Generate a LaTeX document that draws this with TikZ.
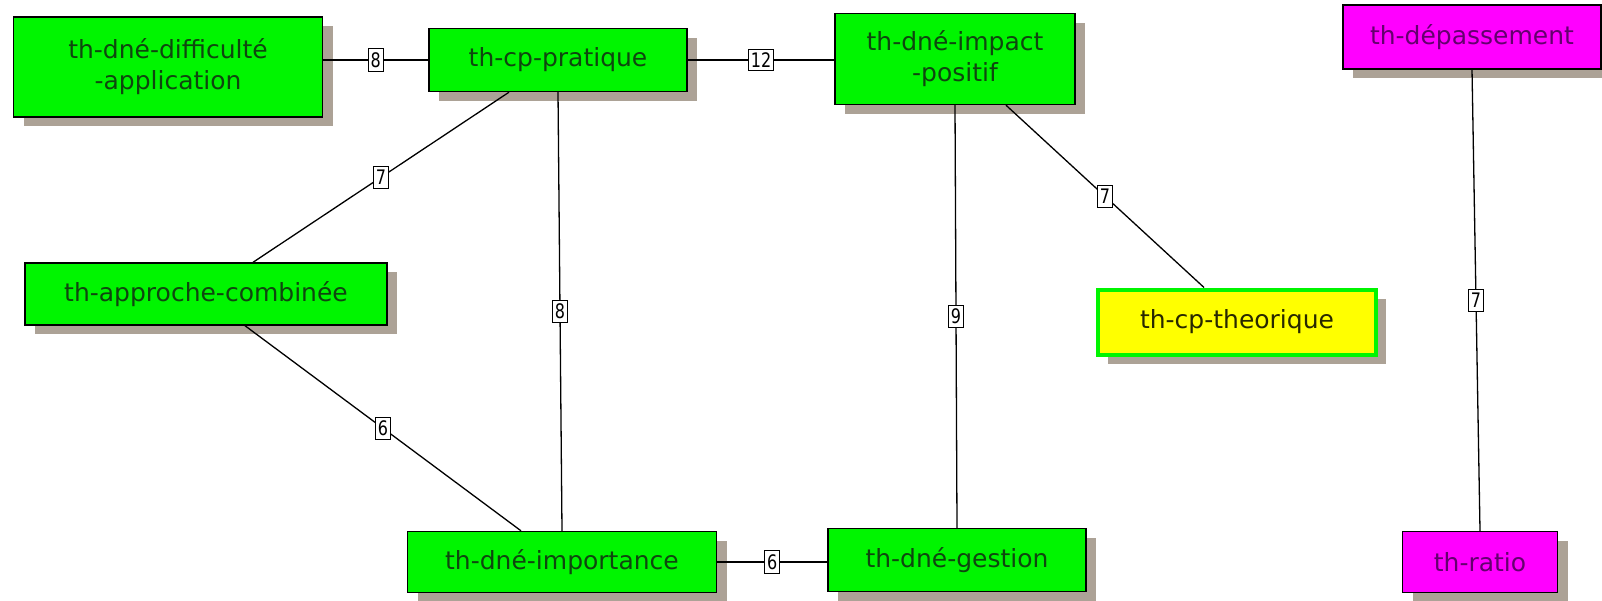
\documentclass[tikz,border=0pt]{standalone}
\usepackage{fontspec}
\setmainfont{DejaVu Sans}
\newfontfamily\weightfont[FakeStretch=0.8]{DejaVu Sans}
\usetikzlibrary{calc,shadows}

\definecolor{boxgreen}{RGB}{0,245,0}
\definecolor{boxmagenta}{RGB}{255,0,255}
\definecolor{boxyellow}{RGB}{255,255,0}
\definecolor{greentext}{RGB}{15,70,15}
\definecolor{magentatext}{RGB}{100,0,110}
\definecolor{yellowtext}{RGB}{40,40,0}
\definecolor{shadowc}{RGB}{172,162,150}

\tikzset{
  boxshadow/.style={drop shadow={shadow xshift=10pt, shadow yshift=-9pt, fill=shadowc, opacity=1}},
  topic/.style={draw=black, line width=1.4pt, fill=boxgreen, text=greentext,
    inner sep=0pt, align=center, font=\fontsize{25}{31}\selectfont, boxshadow},
  extra/.style={topic, fill=boxmagenta, text=magentatext},
  focus/.style={topic, draw=boxgreen, line width=4pt, fill=boxyellow, text=yellowtext},
  link/.style={line width=1.3pt, black},
  weight/.style={draw=black, line width=0.9pt, fill=white, text=black,
    font=\weightfont\fontsize{20}{20}\selectfont, inner xsep=2.5pt, inner ysep=3.5pt},
}

\begin{document}
\begin{tikzpicture}[x=1pt, y=-1pt]
  \useasboundingbox (0,0) rectangle (1602,600);

  % topics
  \node[topic, minimum width=309pt, minimum height=100pt] (diff) at (168,67)
    {th-dné-difficulté\\-application};
  \node[topic, minimum width=258pt, minimum height=63pt] (prat) at (558,60)
    {th-cp-pratique};
  \node[topic, minimum width=240pt, minimum height=91pt] (impact) at (955,59)
    {th-dné-impact\\-positif};
  \node[extra, minimum width=258pt, minimum height=64pt] (depas) at (1472,37)
    {th-dépassement};
  \node[topic, minimum width=362pt, minimum height=62pt] (appr) at (206,294)
    {th-approche-combinée};
  \node[focus, minimum width=278pt, minimum height=65pt] (theo) at (1237,322)
    {th-cp-theorique};
  \node[topic, minimum width=309pt, minimum height=61pt] (imp) at (562,562)
    {th-dné-importance};
  \node[topic, minimum width=258pt, minimum height=63pt] (gest) at (957,560)
    {th-dné-gestion};
  \node[extra, minimum width=155pt, minimum height=61pt] (ratio) at (1480,562)
    {th-ratio};

  % weighted links
  \draw[link] (prat.west -| diff.east) -- (prat.west) node[midway, weight] {8};
  \draw[link] (prat.east) -- (prat.east -| impact.west) node[midway, weight] {12};
  \draw[link] ($(prat.south)+(-49,0)$) -- ($(appr.north)+(47,0)$) node[midway, weight] {7};
  \draw[link] (prat.south) -- (imp.north) node[midway, weight] {8};
  \draw[link] ($(appr.south)+(39,0)$) -- ($(imp.north)+(-41,0)$) node[midway, weight] {6};
  \draw[link] (imp.east) -- (imp.east -| gest.west) node[midway, weight] {6};
  \draw[link] (impact.south) -- (gest.north) node[midway, weight] {9};
  \draw[link] ($(impact.south)+(51,0)$) -- ($(theo.north)+(-33,0)$) node[midway, weight] {7};
  \draw[link] (depas.south) -- (ratio.north) node[midway, weight] {7};
\end{tikzpicture}
\end{document}
